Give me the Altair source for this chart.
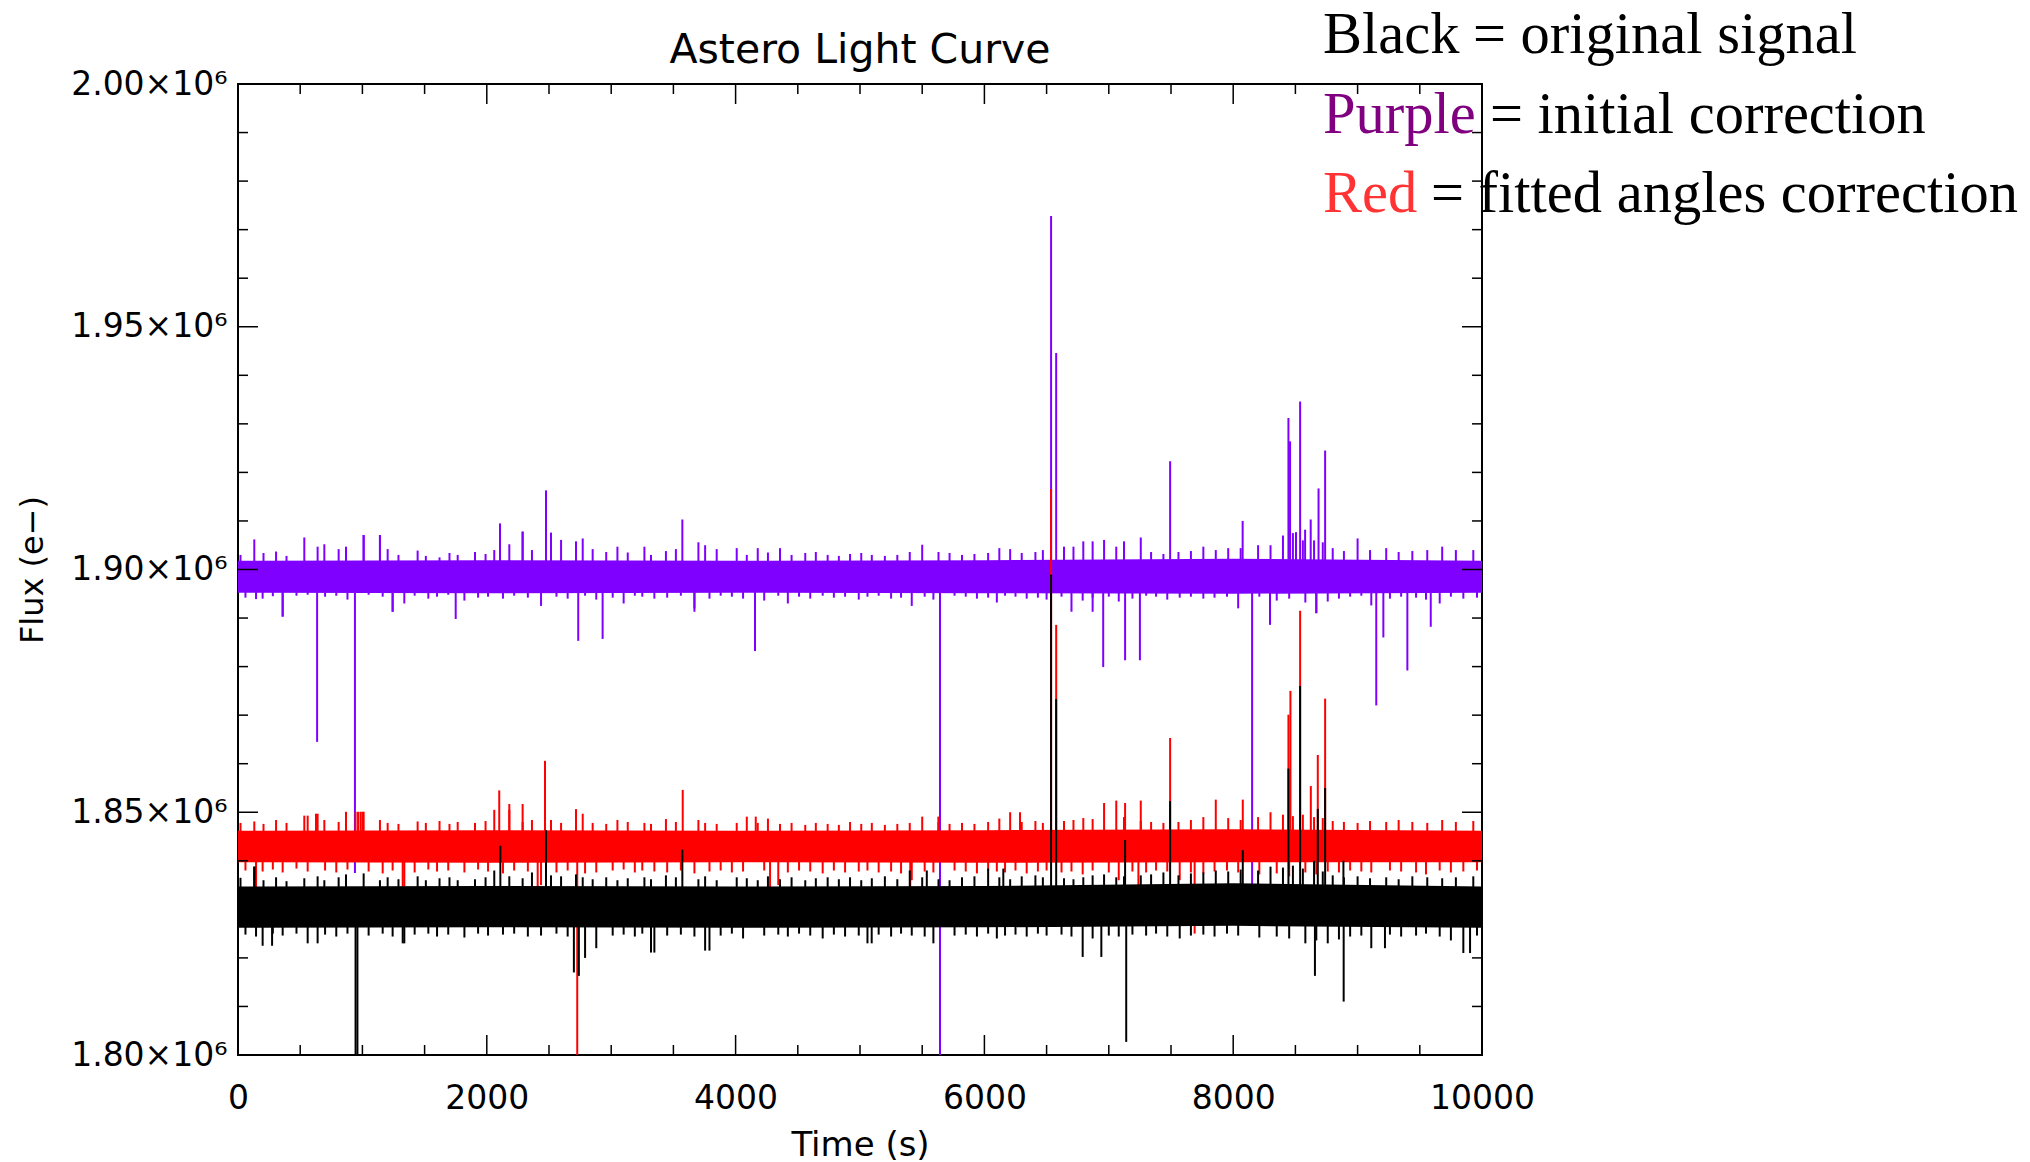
import altair as alt
import pandas as pd

W, H = 1244, 971
SCALE = 1e6  # values below are in units of 10^6 e-

# ---------------- axis ticks ----------------
X_MAJOR = [0, 2000, 4000, 6000, 8000, 10000]
X_MINOR = [500, 1000, 1500, 2500, 3000, 3500, 4500, 5000, 5500, 6500, 7000, 7500, 8500, 9000, 9500]
Y_MAJOR = [1.80, 1.85, 1.90, 1.95, 2.00]
Y_MINOR = [1.81, 1.82, 1.83, 1.84, 1.86, 1.87, 1.88, 1.89, 1.91, 1.92, 1.93, 1.94, 1.96, 1.97, 1.98, 1.99]

# ---------------- dense core of each noisy band (knots every 2000 s) ----------------
T_KNOTS = [0, 2000, 4000, 6000, 8000, 10000]
PU_CORE_LO = [1.8952, 1.8951, 1.8952, 1.8951, 1.8950, 1.8952]
PU_CORE_HI = [1.9018, 1.9019, 1.9018, 1.9019, 1.9022, 1.9018]
RD_CORE_LO = [1.8397, 1.8396, 1.8397, 1.8396, 1.8397, 1.8397]
RD_CORE_HI = [1.8462, 1.8463, 1.8462, 1.8463, 1.8465, 1.8462]
BK_CORE_LO = [1.8262, 1.8263, 1.8262, 1.8263, 1.8266, 1.8262]
BK_CORE_HI = [1.8347, 1.8348, 1.8347, 1.8348, 1.8354, 1.8347]

# ---------------- small noise excursions above / below each band ----------------
UP_T = [20, 131, 205, 306, 390, 533, 640, 694, 809, 868,
        1010, 1141, 1203, 1290, 1444, 1510, 1620, 1700, 1766, 1905,
        1990, 2060, 2181, 2288, 2363, 2516, 2597, 2717, 2771, 2851,
        2960, 3050, 3133, 3267, 3320, 3440, 3520, 3701, 3755, 3848,
        4009, 4090, 4178, 4260, 4357, 4450, 4560, 4645, 4740, 4830,
        4920, 5010, 5095, 5200, 5300, 5400, 5500, 5631, 5720, 5820,
        5920, 6030, 6120, 6207, 6300, 6410, 6470, 6640, 6716, 6795,
        6870, 6962, 7060, 7122, 7257, 7340, 7439, 7560, 7660, 7760,
        7860, 7960, 8060, 8200, 8300, 8400, 8480, 8560, 8650, 8720,
        8800, 8890, 9000, 9100, 9230, 9330, 9440, 9560, 9680, 9790,
        9930]
DN_T = [60, 145, 198, 280, 359, 470, 560, 700, 790, 880,
        1050, 1163, 1243, 1337, 1420, 1530, 1600, 1690, 1820, 1930,
        2010, 2130, 2220, 2330, 2436, 2560, 2650, 2790, 2880, 3012,
        3100, 3190, 3250, 3347, 3450, 3560, 3669, 3790, 3880, 3970,
        4060, 4230, 4343, 4420, 4510, 4600, 4700, 4790, 4880, 4990,
        5060, 5150, 5250, 5330, 5416, 5520, 5590, 5760, 5850, 5940,
        6030, 6100, 6166, 6250, 6340, 6430, 6500, 6620, 6700, 6790,
        6870, 7000, 7080, 7190, 7300, 7380, 7470, 7570, 7660, 7760,
        7850, 7950, 8040, 8210, 8350, 8450, 8580, 8668, 8760, 8850,
        8940, 9030, 9110, 9260, 9350, 9470, 9550, 9660, 9750, 9850,
        9960]
PU_HI = [1.9030, 1.9062, 1.9034, 1.9037, 1.9028, 1.9066, 1.9047, 1.9052, 1.9042, 1.9047,
         1.9071, 1.9071, 1.9042, 1.9030, 1.9039, 1.9028, 1.9025, 1.9034, 1.9030, 1.9036,
         1.9032, 1.9040, 1.9052, 1.9078, 1.9040, 1.9076, 1.9061, 1.9058, 1.9064, 1.9042,
         1.9036, 1.9047, 1.9035, 1.9047, 1.9030, 1.9038, 1.9042, 1.9056, 1.9050, 1.9042,
         1.9044, 1.9030, 1.9044, 1.9035, 1.9044, 1.9030, 1.9034, 1.9036, 1.9030, 1.9028,
         1.9032, 1.9034, 1.9030, 1.9028, 1.9030, 1.9036, 1.9051, 1.9036, 1.9034, 1.9030,
         1.9032, 1.9034, 1.9044, 1.9042, 1.9034, 1.9036, 1.9040, 1.9047, 1.9047, 1.9058,
         1.9058, 1.9061, 1.9047, 1.9058, 1.9066, 1.9036, 1.9032, 1.9036, 1.9038, 1.9047,
         1.9040, 1.9044, 1.9044, 1.9050, 1.9050, 1.9070, 1.9075, 1.9060, 1.9060, 1.9056,
         1.9044, 1.9038, 1.9064, 1.9040, 1.9044, 1.9036, 1.9038, 1.9040, 1.9047, 1.9040,
         1.9040]
PU_LO = [1.8942, 1.8939, 1.8940, 1.8945, 1.8903, 1.8946, 1.8948, 1.8944, 1.8946, 1.8938,
         1.8948, 1.8944, 1.8913, 1.8930, 1.8946, 1.8940, 1.8944, 1.8948, 1.8936, 1.8942,
         1.8944, 1.8940, 1.8946, 1.8942, 1.8925, 1.8944, 1.8940, 1.8946, 1.8938, 1.8942,
         1.8930, 1.8946, 1.8944, 1.8940, 1.8942, 1.8946, 1.8920, 1.8940, 1.8946, 1.8944,
         1.8940, 1.8936, 1.8946, 1.8930, 1.8944, 1.8940, 1.8946, 1.8942, 1.8944, 1.8938,
         1.8944, 1.8946, 1.8940, 1.8942, 1.8925, 1.8944, 1.8938, 1.8946, 1.8944, 1.8940,
         1.8942, 1.8932, 1.8946, 1.8944, 1.8940, 1.8942, 1.8938, 1.8944, 1.8913, 1.8936,
         1.8942, 1.8944, 1.8934, 1.8940, 1.8946, 1.8944, 1.8938, 1.8942, 1.8944, 1.8940,
         1.8942, 1.8944, 1.8920, 1.8944, 1.8936, 1.8940, 1.8932, 1.8910, 1.8934, 1.8940,
         1.8944, 1.8946, 1.8926, 1.8940, 1.8944, 1.8942, 1.8938, 1.8930, 1.8944, 1.8940,
         1.8942]
RD_HI = [1.8478, 1.8481, 1.8476, 1.8484, 1.8478, 1.8493, 1.8497, 1.8484, 1.8480, 1.8501,
         1.8501, 1.8484, 1.8478, 1.8476, 1.8481, 1.8478, 1.8482, 1.8476, 1.8480, 1.8478,
         1.8482, 1.8505, 1.8517, 1.8480, 1.8484, 1.8484, 1.8478, 1.8506, 1.8497, 1.8478,
         1.8476, 1.8484, 1.8480, 1.8478, 1.8476, 1.8486, 1.8480, 1.8484, 1.8478, 1.8476,
         1.8478, 1.8491, 1.8478, 1.8487, 1.8476, 1.8478, 1.8474, 1.8478, 1.8476, 1.8474,
         1.8480, 1.8476, 1.8478, 1.8474, 1.8476, 1.8478, 1.8491, 1.8480, 1.8476, 1.8478,
         1.8476, 1.8480, 1.8487, 1.8500, 1.8480, 1.8482, 1.8478, 1.8482, 1.8484, 1.8488,
         1.8486, 1.8519, 1.8524, 1.8490, 1.8482, 1.8480, 1.8478, 1.8480, 1.8484, 1.8490,
         1.8526, 1.8488, 1.8484, 1.8490, 1.8500, 1.8495, 1.8492, 1.8495, 1.8490, 1.8488,
         1.8482, 1.8480, 1.8478, 1.8482, 1.8480, 1.8484, 1.8480, 1.8478, 1.8484, 1.8480,
         1.8482]
RD_LO = [1.8380, 1.8360, 1.8378, 1.8382, 1.8376, 1.8384, 1.8378, 1.8380, 1.8376, 1.8382,
         1.8378, 1.8374, 1.8380, 1.8347, 1.8376, 1.8382, 1.8378, 1.8380, 1.8376, 1.8382,
         1.8378, 1.8374, 1.8380, 1.8378, 1.8350, 1.8376, 1.8380, 1.8374, 1.8376, 1.8380,
         1.8382, 1.8376, 1.8380, 1.8378, 1.8376, 1.8380, 1.8374, 1.8378, 1.8380, 1.8376,
         1.8378, 1.8380, 1.8350, 1.8376, 1.8380, 1.8378, 1.8374, 1.8380, 1.8376, 1.8378,
         1.8380, 1.8376, 1.8378, 1.8374, 1.8360, 1.8378, 1.8376, 1.8380, 1.8378, 1.8374,
         1.8380, 1.8378, 1.8376, 1.8380, 1.8374, 1.8378, 1.8380, 1.8376, 1.8378, 1.8372,
         1.8380, 1.8376, 1.8360, 1.8378, 1.8376, 1.8380, 1.8378, 1.8360, 1.8376, 1.8374,
         1.8378, 1.8380, 1.8376, 1.8372, 1.8374, 1.8368, 1.8376, 1.8372, 1.8378, 1.8376,
         1.8380, 1.8378, 1.8376, 1.8380, 1.8378, 1.8376, 1.8372, 1.8380, 1.8376, 1.8378,
         1.8380]
BK_HI = [1.8365, 1.8388, 1.8360, 1.8366, 1.8358, 1.8364, 1.8368, 1.8360, 1.8366, 1.8372,
         1.8374, 1.8360, 1.8366, 1.8362, 1.8368, 1.8360, 1.8364, 1.8366, 1.8360, 1.8362,
         1.8366, 1.8380, 1.8368, 1.8364, 1.8376, 1.8370, 1.8368, 1.8372, 1.8366, 1.8362,
         1.8366, 1.8360, 1.8364, 1.8366, 1.8362, 1.8370, 1.8366, 1.8362, 1.8368, 1.8360,
         1.8366, 1.8364, 1.8360, 1.8368, 1.8362, 1.8366, 1.8360, 1.8364, 1.8366, 1.8362,
         1.8366, 1.8360, 1.8364, 1.8368, 1.8362, 1.8380, 1.8366, 1.8362, 1.8360, 1.8366,
         1.8368, 1.8384, 1.8366, 1.8362, 1.8368, 1.8370, 1.8366, 1.8364, 1.8362, 1.8366,
         1.8370, 1.8372, 1.8366, 1.8368, 1.8370, 1.8372, 1.8376, 1.8370, 1.8374, 1.8376,
         1.8380, 1.8378, 1.8382, 1.8380, 1.8388, 1.8386, 1.8390, 1.8384, 1.8400, 1.8378,
         1.8370, 1.8366, 1.8368, 1.8364, 1.8366, 1.8362, 1.8368, 1.8366, 1.8364, 1.8366,
         1.8368]
BK_LO = [1.8248, 1.8244, 1.8225, 1.8250, 1.8246, 1.8250, 1.8230, 1.8248, 1.8244, 1.8250,
         1.8246, 1.8250, 1.8244, 1.8230, 1.8248, 1.8250, 1.8244, 1.8248, 1.8242, 1.8250,
         1.8246, 1.8248, 1.8250, 1.8244, 1.8246, 1.8250, 1.8244, 1.8200, 1.8220, 1.8246,
         1.8248, 1.8244, 1.8250, 1.8211, 1.8246, 1.8248, 1.8244, 1.8215, 1.8246, 1.8250,
         1.8240, 1.8246, 1.8248, 1.8244, 1.8250, 1.8246, 1.8240, 1.8248, 1.8244, 1.8246,
         1.8230, 1.8248, 1.8244, 1.8250, 1.8246, 1.8244, 1.8230, 1.8246, 1.8248, 1.8244,
         1.8250, 1.8240, 1.8246, 1.8248, 1.8244, 1.8250, 1.8246, 1.8248, 1.8244, 1.8202,
         1.8240, 1.8246, 1.8244, 1.8248, 1.8246, 1.8250, 1.8244, 1.8240, 1.8246, 1.8248,
         1.8244, 1.8250, 1.8246, 1.8242, 1.8244, 1.8240, 1.8230, 1.8236, 1.8230, 1.8238,
         1.8244, 1.8246, 1.8220, 1.8248, 1.8244, 1.8246, 1.8250, 1.8244, 1.8236, 1.8210,
         1.8246]

# ---------------- isolated spikes (time s, flux 10^6 e-) ----------------
PU_BASE = 1.8985
PU_SPIKE_T = [2476, 6536, 6577, 7493, 8444, 8457, 8538, 8686, 8739, 2106, 3572, 8076, 8623, 8505,
              8578, 2288, 1010, 1141,
              636, 940, 1750, 2735, 2931, 4156, 5643, 6955, 7131, 7250, 8152, 8296, 9150, 9207,
              9400, 9588, 359, 1243, 3669, 6870, 8668]
PU_SPIKE_V = [1.9163, 1.9728, 1.9446, 1.9223, 1.9312, 1.9264, 1.9346, 1.9167, 1.9245, 1.9095, 1.9103,
              1.9100, 1.9103, 1.9077, 1.9082, 1.9078, 1.9071, 1.9071,
              1.8645, 1.8375, 1.8898, 1.8853, 1.8857, 1.8832, 1.8000, 1.8799, 1.8813, 1.8813, 1.8334,
              1.8886, 1.8720, 1.8860, 1.8792, 1.8882, 1.8903, 1.8913, 1.8913, 1.8913, 1.8910]

RD_BASE = 1.8430
RD_SPIKE_T = [2100, 2468, 3575, 6536, 6577, 7493, 8444, 8460, 8538, 8624, 8680, 8739, 2181, 2288,
              2717, 6286, 7131, 7257, 8077, 560, 627, 4162, 5630, 945, 965, 985, 1000,
              2727, 145, 1324, 2409, 4277, 5404, 7238, 7690]
RD_SPIKE_V = [1.8545, 1.8606, 1.8546, 1.9166, 1.8886, 1.8653, 1.8701, 1.8750, 1.8915, 1.8554, 1.8618,
              1.8734, 1.8505, 1.8517, 1.8506, 1.8500, 1.8519, 1.8524, 1.8526, 1.8493, 1.8497, 1.8491,
              1.8491, 1.8501, 1.8501, 1.8501, 1.8501,
              1.8000, 1.8330, 1.8347, 1.8330, 1.8298, 1.8323, 1.8331, 1.8250]

BK_BASE = 1.8305
BK_SPIKE_T = [6536, 6577, 7493, 8444, 8538, 8680, 8739, 2109, 2476, 3572, 8077, 131, 5537, 6152,
              8886, 7131,
              945, 960, 7140, 8888, 8657, 2700, 2740, 6940, 3755, 3320, 640, 9220, 9904, 5094,
              274, 1324]
BK_SPIKE_V = [1.8989, 1.8733, 1.8523, 1.8590, 1.8760, 1.8507, 1.8550, 1.8431, 1.8463, 1.8423, 1.8422,
              1.8388, 1.8380, 1.8384, 1.8400, 1.8443,
              1.8000, 1.8000, 1.8027, 1.8110, 1.8163, 1.8170, 1.8163, 1.8202, 1.8215, 1.8211, 1.8230,
              1.8220, 1.8210, 1.8230, 1.8225, 1.8230]

TITLE = "Astero Light Curve"
X_TITLE = "Time (s)"
Y_TITLE = "Flux (e\u2212)"
LEGEND_WORDS = ["Black", "Purple", "Red"]
LEGEND_RESTS = ["= original signal", "= initial correction", "= fitted angles correction"]

# ---------------- styles ----------------
LINE_COLORS = {"purple": "#8000FF", "red": "#FF0000", "black": "#000000"}
WORD_COLORS = ["#000000", "#800080", "#FF3333"]
AX_FONT = "DejaVu Sans"
SERIF = "Liberation Serif"

xs = alt.Scale(domain=[0, 10000], nice=False, zero=False)
ys = alt.Scale(domain=[1.80e6, 2.00e6], nice=False, zero=False)

x_axis = alt.Axis(values=X_MAJOR, format="d", title=X_TITLE, ticks=False, tickSize=0, domain=False,
                  grid=False, labelFont=AX_FONT, labelFontSize=33, labelColor="black",
                  labelPadding=53, labelBaseline="alphabetic", labelFlush=False, labelOverlap=False,
                  titleFont=AX_FONT, titleFontSize=34, titleFontWeight="normal", titleColor="black",
                  titleX=W / 2, titleY=100, titleBaseline="alphabetic", titleAlign="center")
y_axis = alt.Axis(values=[v * SCALE for v in Y_MAJOR], title=Y_TITLE, ticks=False, tickSize=0,
                  domain=False, grid=False,
                  labelExpr="format(datum.value / 1000000, '.2f') + '\u00d710\u2076'",
                  labelFont=AX_FONT, labelFontSize=33, labelColor="black", labelPadding=11,
                  labelBaseline="middle", labelAlign="right", labelOverlap=False, labelFlush=False,
                  titleFont=AX_FONT, titleFontSize=32, titleFontWeight="normal", titleColor="black",
                  titleX=-206, titleY=H / 2, titleAngle=270, titleAlign="center",
                  titleBaseline="middle")


def X(field):
    return alt.X(field, scale=xs, axis=x_axis)


def Y(field):
    return alt.Y(field, scale=ys, axis=y_axis)


def series_layers(core_lo, core_hi, hi, lo, base, st, sv, color):
    core = pd.DataFrame({"t": T_KNOTS, "lo": [v * SCALE for v in core_lo],
                         "hi": [v * SCALE for v in core_hi]})
    up = pd.DataFrame({"t": UP_T, "base": [base * SCALE] * len(UP_T), "v": [v * SCALE for v in hi]})
    dn = pd.DataFrame({"t": DN_T, "base": [base * SCALE] * len(DN_T), "v": [v * SCALE for v in lo]})
    spk = pd.DataFrame({"t": st, "base": [base * SCALE] * len(st), "v": [v * SCALE for v in sv]})
    out = [alt.Chart(core).mark_area(color=color, clip=True).encode(
        x=X("t:Q"), y=Y("lo:Q"), y2="hi:Q")]
    for d in (up, dn, spk):
        out.append(alt.Chart(d).mark_rule(color=color, strokeWidth=2, clip=True).encode(
            x=X("t:Q"), y=Y("base:Q"), y2="v:Q"))
    return out


layers = []
layers += series_layers(PU_CORE_LO, PU_CORE_HI, PU_HI, PU_LO, PU_BASE, PU_SPIKE_T, PU_SPIKE_V,
                        LINE_COLORS["purple"])
layers += series_layers(RD_CORE_LO, RD_CORE_HI, RD_HI, RD_LO, RD_BASE, RD_SPIKE_T, RD_SPIKE_V,
                        LINE_COLORS["red"])
layers += series_layers(BK_CORE_LO, BK_CORE_HI, BK_HI, BK_LO, BK_BASE, BK_SPIKE_T, BK_SPIKE_V,
                        LINE_COLORS["black"])


# inward ticks on all four sides
def xticks(vals, length):
    d = pd.DataFrame({"v": vals})
    bot = alt.Chart(d).mark_rule(color="black", strokeWidth=1.5).encode(
        x=X("v:Q"), y=alt.value(H), y2=alt.value(H - length))
    top = alt.Chart(d).mark_rule(color="black", strokeWidth=1.5).encode(
        x=X("v:Q"), y=alt.value(0), y2=alt.value(length))
    return [bot, top]


def yticks(vals, length):
    d = pd.DataFrame({"v": [v * SCALE for v in vals]})
    left = alt.Chart(d).mark_rule(color="black", strokeWidth=1.5).encode(
        y=Y("v:Q"), x=alt.value(0), x2=alt.value(length))
    right = alt.Chart(d).mark_rule(color="black", strokeWidth=1.5).encode(
        y=Y("v:Q"), x=alt.value(W), x2=alt.value(W - length))
    return [left, right]


layers += xticks(X_MAJOR, 20) + xticks(X_MINOR, 10) + yticks(Y_MAJOR, 20) + yticks(Y_MINOR, 10)

# title
layers.append(alt.Chart(pd.DataFrame({"txt": [TITLE]})).mark_text(
    font=AX_FONT, fontSize=41, fontWeight="normal", color="black", align="center",
    baseline="alphabetic").encode(text="txt:N", x=alt.value(W / 2), y=alt.value(-21)))

# legend text in the top-right corner
LEG_X = 1085
LEG_Y = [-31, 49, 128]
LEG_FS = 58.5
WORD_W = [136, 153, 94]
for i in range(3):
    d = pd.DataFrame({"w": [LEGEND_WORDS[i]], "r": [LEGEND_RESTS[i]]})
    layers.append(alt.Chart(d).mark_text(font=SERIF, fontSize=LEG_FS, color=WORD_COLORS[i],
                                         align="left", baseline="alphabetic").encode(
        text="w:N", x=alt.value(LEG_X), y=alt.value(LEG_Y[i])))
    layers.append(alt.Chart(d).mark_text(font=SERIF, fontSize=LEG_FS, color="black",
                                         align="left", baseline="alphabetic").encode(
        text="r:N", x=alt.value(LEG_X + WORD_W[i] + 14), y=alt.value(LEG_Y[i])))

chart = alt.layer(*layers).properties(
    width=W, height=H,
    padding={"left": 238, "top": 84, "right": 548, "bottom": 107},
    autosize=alt.AutoSizeParams(type="none"),
    background="white",
).configure_view(stroke="black", strokeWidth=2)

chart.save("out.html", embed_options={"renderer": "svg", "actions": False})
